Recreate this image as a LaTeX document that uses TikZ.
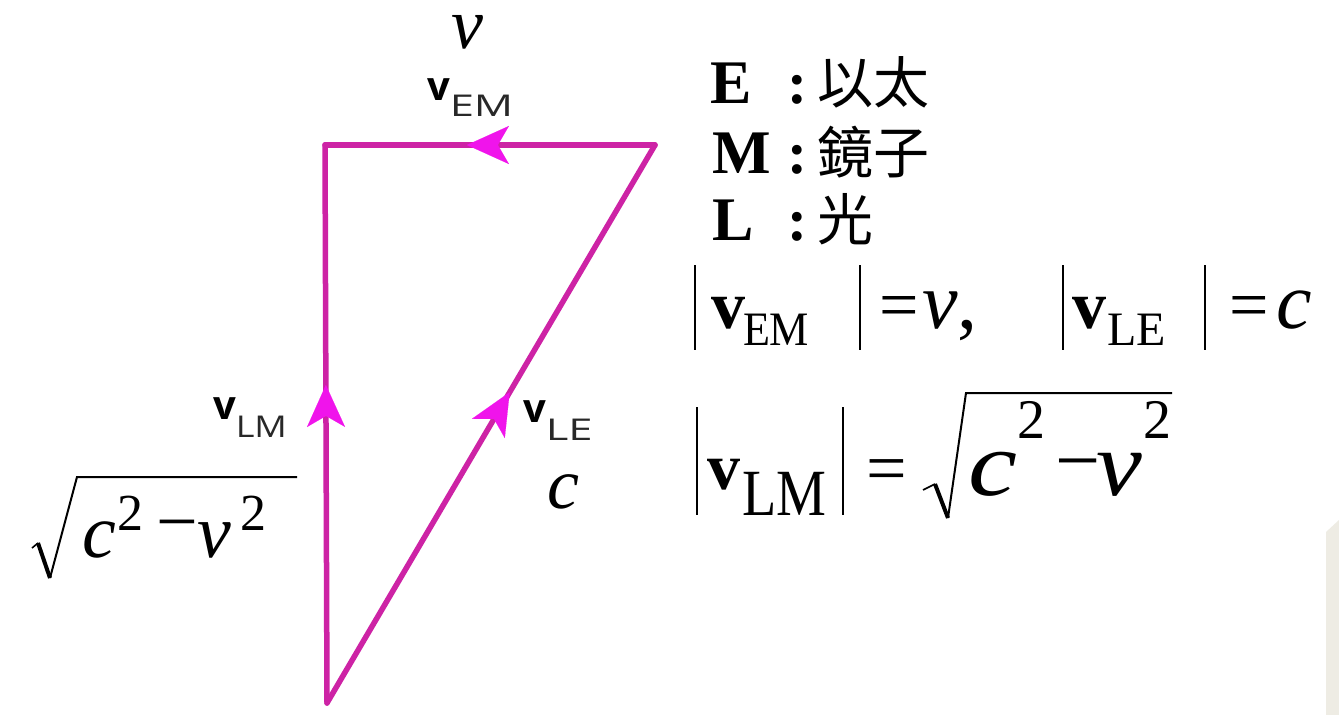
\documentclass[tikz,border=0pt]{standalone}
\usepackage{fontspec}
\setmainfont{Liberation Serif}
\newfontfamily\cjkfont{Noto Sans CJK TC}
\newfontfamily\lblfont{Open Sans}
\usetikzlibrary{arrows.meta,decorations.markings}
\definecolor{linemag}{RGB}{205,35,165}
\definecolor{arrowmag}{RGB}{240,20,235}
\definecolor{subgray}{RGB}{40,40,40}
\definecolor{scrap}{RGB}{238,236,228}
\newcommand\fs[1]{\fontsize{#1}{#1}\selectfont}
\newcommand\sx[2]{\scalebox{#1}[1]{#2}}
\begin{document}
\begin{tikzpicture}[x=1pt,y=-1pt,
  t/.style={inner sep=0pt, outer sep=0pt, anchor=base west},
  side/.style={line width=5.5pt, draw=linemag, line cap=round,
    postaction=decorate,
    decoration={markings, mark=at position #1 with {\arrow{Stealth[length=42pt,width=38pt,inset=11pt,line width=0.1pt,color=arrowmag,fill=arrowmag]}}}},
  absbar/.style={line width=2pt, draw=black},
  radthin/.style={line width=2pt, draw=black, line join=miter},
  radthick/.style={line width=4pt, draw=black},
  radtick/.style={line width=1.6pt, draw=black}]
\useasboundingbox (0,0) rectangle (1339,715);
\fill[white] (0,0) rectangle (1339,715);
% scan scrap at bottom right
\fill[scrap] (1326,532) -- (1339,520) -- (1339,715) -- (1326,715) -- cycle;

% triangle
\coordinate (A) at (325,145);
\coordinate (B) at (655,145);
\coordinate (C) at (327,703);
\draw[side=0.57] (B) -- (A);
\draw[side=0.57] (C) -- (A);
\draw[side=0.557] (C) -- (B);

% labels on the triangle
\node[t, font=\fs{72}\itshape, text height=34pt, text depth=0pt] (vtop) at (451,48) {v};
\node[t, font=\lblfont\fs{40}] (vEM) at (427,100) {\bfseries v\raisebox{-16pt}{\fs{30}\mdseries\color{subgray}\sx{1.45}{EM}}};
\node[t, font=\lblfont\fs{40}] (vLM) at (213,419) {\bfseries v\raisebox{-18pt}{\fs{30}\mdseries\color{subgray}\sx{1.2}{LM}}};
\node[t, font=\lblfont\fs{40}] (vLE) at (523,422) {\bfseries v\raisebox{-18pt}{\fs{30}\mdseries\color{subgray}\sx{1.45}{LE}}};
\node[t, font=\fs{72}\itshape] (clab) at (547,508) {c};

% left root
\node[t, font=\fs{76}\itshape] (lc) at (82,557) {c};
\node[t, font=\fs{52}] (l2a) at (117,530) {2};
\node[t, font=\fs{74}] (lmin) at (156,546) {−};
\node[t, font=\fs{76}\itshape] (lv) at (197,557) {v};
\node[t, font=\fs{52}] (l2b) at (240,530) {2};
\draw[radtick] (32,548) -- (38,543);
\draw[radthick] (38,543) -- (50,578);
\draw[radthin] (50,578) -- (77,477) -- (297,477);

% legend
\node[t] (legE) at (710,103) {\makebox[77pt][l]{\fs{62}\bfseries E}\makebox[30pt][l]{\fs{60}\bfseries :}{\cjkfont\fs{56}以太}};
\node[t] (legM) at (712,173) {\makebox[75pt][l]{\fs{62}\bfseries M}\makebox[30pt][l]{\fs{60}\bfseries :}{\cjkfont\fs{56}鏡子}};
\node[t] (legL) at (712,240) {\makebox[75pt][l]{\fs{62}\bfseries L}\makebox[30pt][l]{\fs{60}\bfseries :}{\cjkfont\fs{56}光}};

% equation line 1
\draw[absbar] (695,265) -- (695,350);
\node[t, font=\fs{68}\bfseries] (e1v) at (711,328) {v};
\node[t, font=\fs{48}] (e1EM) at (743,345) {\sx{0.92}{EM}};
\draw[absbar] (860,265) -- (860,350);
\node[t, font=\fs{70}] (e1eq) at (879,328) {=};
\node[t, font=\fs{80}] (e1vv) at (922,328) {\textit{v},};
\draw[absbar] (1063,265) -- (1063,350);
\node[t, font=\fs{68}\bfseries] (e2v) at (1072,328) {v};
\node[t, font=\fs{48}] (e2LE) at (1107,345) {LE};
\draw[absbar] (1205,265) -- (1205,350);
\node[t, font=\fs{70}] (e2eq) at (1229,328) {=};
\node[t, font=\fs{80}\itshape] (e2c) at (1276,328) {c};

% equation line 2
\draw[absbar] (697,407) -- (697,515);
\node[t, font=\fs{66}\bfseries] (e3v) at (707,489) {v};
\node[t, font=\fs{66}] (e3LM) at (742,515) {\sx{0.85}{LM}};
\draw[absbar] (843,407) -- (843,515);
\node[t, font=\fs{72}] (e3eq) at (866,492) {=};
\node[t, font=\fs{92}\itshape] (e3c) at (968,495) {\sx{1.2}{c}};
\node[t, font=\fs{56}] (e32a) at (1017,438) {2};
\node[t, font=\fs{80}] (e3min) at (1055,487) {−};
\node[t, font=\fs{92}\itshape] (e3vv) at (1096,495) {\sx{1.12}{v}};
\node[t, font=\fs{56}] (e32b) at (1143,438) {2};
\draw[radtick] (923,490) -- (935,484);
\draw[radthick] (935,484) -- (948,518);
\draw[radthin] (948,518) -- (966,393) -- (1172,393);
\end{tikzpicture}
\end{document}
